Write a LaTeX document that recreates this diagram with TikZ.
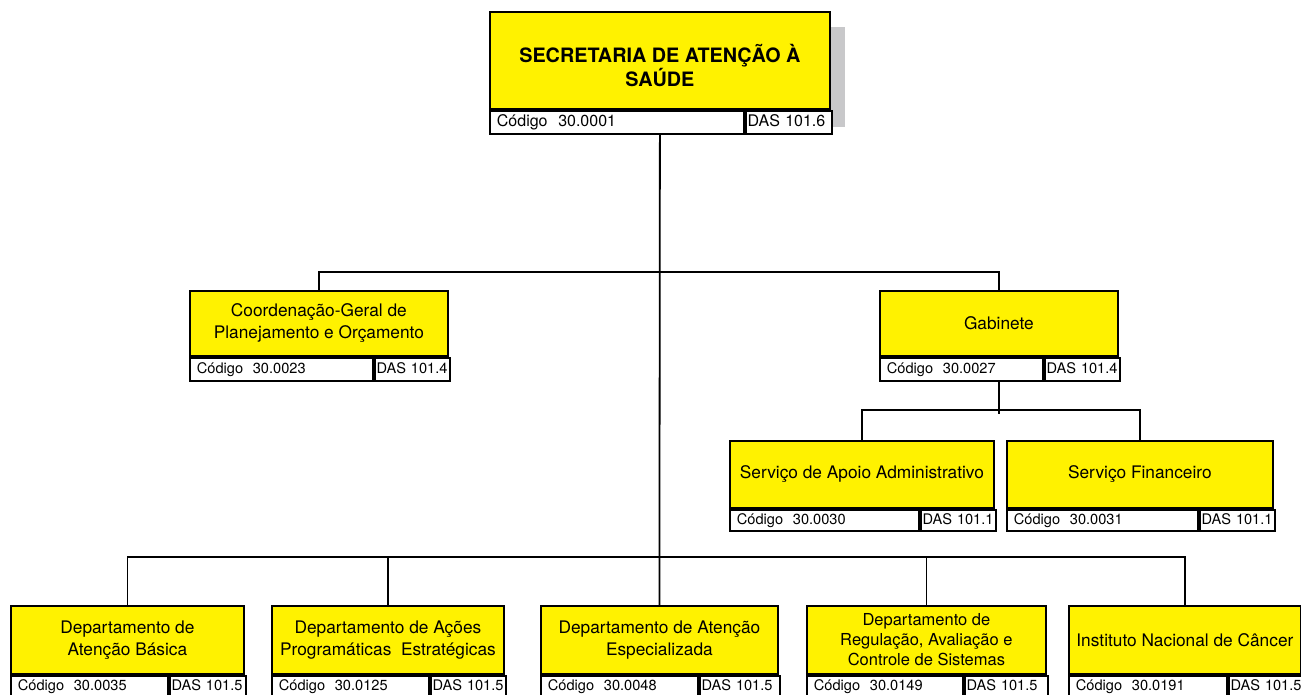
\documentclass[tikz,border=0pt]{standalone}
\usepackage{fontspec}
\setmainfont{TeX Gyre Heros}
\usepackage{tikz}
\usetikzlibrary{positioning}

\definecolor{boxyellow}{RGB}{255,242,0}
\definecolor{shadowgray}{RGB}{200,200,202}

\tikzset{
    namebox/.style={draw, fill=boxyellow, line width=1.8pt, anchor=north west, inner sep=0pt,
        align=center, font=\fontsize{17.3}{22}\selectfont},
    codebox/.style={draw, fill=white, line width=1.8pt, anchor=north west, inner xsep=7pt,
        inner ysep=0pt, text width=#1, align=left, text height=11pt, text depth=3pt,
        font=\fontsize{14.6}{17}\selectfont},
    dasbox/.style={codebox=#1, inner xsep=2pt},
    link/.style={line width=1.8pt}
}

\begin{document}
\begin{tikzpicture}[x=1pt, y=-1pt]
                \useasboundingbox (0,0) rectangle (1301,694);
                \fill[shadowgray] (829,27) rectangle (845,127);

                \node[namebox, minimum width=340, minimum height=97, font=\fontsize{19.8}{21}\selectfont\bfseries] (top) at (489,11) {\rule{0pt}{28pt}SECRETARIA DE ATENÇÃO À\\SAÚDE};
                \node[codebox=240, minimum height=23, font=\fontsize{16}{18}\selectfont] (topcode) at (top.south west) {Código\ \ 30.0001};
                \node[dasbox=82, minimum height=23, font=\fontsize{16}{18}\selectfont, right=0pt of topcode] (topdas) {DAS~101.6};

                \node[namebox, minimum width=258, minimum height=65] (cgpo) at (189,290) {Coordenação-Geral de\\Planejamento e Orçamento};
                \node[codebox=169, minimum height=23] (cgpocode) at (cgpo.south west) {Código\ \ 30.0023};
                \node[dasbox=71, minimum height=23, right=0pt of cgpocode] (cgpodas) {DAS~101.4};

                \node[namebox, minimum width=238, minimum height=65] (gab) at (879,290) {Gabinete};
                \node[codebox=149, minimum height=23] (gabcode) at (gab.south west) {Código\ \ 30.0027};
                \node[dasbox=71, minimum height=23, right=0pt of gabcode] (gabdas) {DAS~101.4};

                \node[namebox, minimum width=264, minimum height=67] (saa) at (729,440) {Serviço de Apoio Administrativo};
                \node[codebox=175, minimum height=21] (saacode) at (saa.south west) {Código\ \ 30.0030};
                \node[dasbox=71, minimum height=21, right=0pt of saacode] (saadas) {DAS~101.1};

                \node[namebox, minimum width=266, minimum height=67] (sf) at (1006,440) {Serviço Financeiro};
                \node[codebox=177, minimum height=21] (sfcode) at (sf.south west) {Código\ \ 30.0031};
                \node[dasbox=71, minimum height=21, right=0pt of sfcode] (sfdas) {DAS~101.1};

                \node[namebox, minimum width=233, minimum height=68] (dab) at (10,605) {Departamento de\\Atenção Básica};
                \node[codebox=143, minimum height=22] (dabcode) at (dab.south west) {Código\ \ 30.0035};
                \node[dasbox=72, minimum height=22, right=0pt of dabcode] (dabdas) {DAS~101.5};

                \node[namebox, minimum width=232, minimum height=68] (dape) at (271,605) {Departamento de Ações\\Programáticas\ \ Estratégicas};
                \node[codebox=143, minimum height=22] (dapecode) at (dape.south west) {Código\ \ 30.0125};
                \node[dasbox=71, minimum height=22, right=0pt of dapecode] (dapedas) {DAS~101.5};

                \node[namebox, minimum width=237, minimum height=68] (dae) at (540,605) {Departamento de Atenção\\Especializada};
                \node[codebox=143, minimum height=22] (daecode) at (dae.south west) {Código\ \ 30.0048};
                \node[dasbox=76, minimum height=22, right=0pt of daecode] (daedas) {DAS~101.5};

                \node[namebox, minimum width=239, minimum height=68, font=\fontsize{16.5}{20}\selectfont] (drac) at (806,605) {Departamento de\\Regulação, Avaliação e\\Controle de Sistemas};
                \node[codebox=142, minimum height=22] (draccode) at (drac.south west) {Código\ \ 30.0149};
                \node[dasbox=79, minimum height=22, right=0pt of draccode] (dracdas) {DAS~101.5};

                \node[namebox, minimum width=232, minimum height=68] (inc) at (1068,605) {Instituto Nacional de Câncer};
                \node[codebox=144, minimum height=22] (inccode) at (inc.south west) {Código\ \ 30.0191};
                \node[dasbox=70, minimum height=22, right=0pt of inccode] (incdas) {DAS~101.5};

                \draw[link] (topcode.south -| top.south) -- (dae.north);
                \draw[link] (cgpo.north) -- ++(0,-18) -| (gab.north);
                \draw[link] (gabcode.south -| gab.south) -- ++(0,32);
                \draw[link] (saa.north) -- ++(0,-30) -| (sf.north);
                \draw[link] (dab.north) -- ++(0,-48) -| (inc.north);
                \draw[link] (dape.north) -- ++(0,-48);
                \draw[link] (drac.north) -- ++(0,-48);
\end{tikzpicture}
\end{document}
